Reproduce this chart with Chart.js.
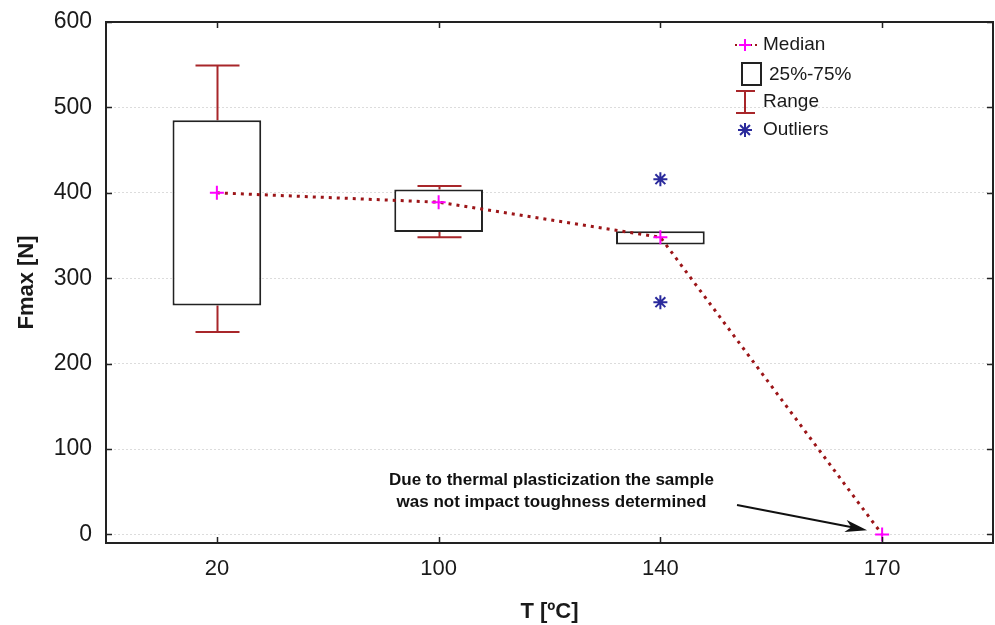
<!DOCTYPE html>
<html>
<head>
<meta charset="utf-8">
<script src="https://cdn.jsdelivr.net/npm/chart.js@4.4.0/dist/chart.umd.min.js"></script>
<style>
  html, body { margin: 0; padding: 0; background: #fff; }
  #wrap { width: 995px; height: 625px; }
</style>
</head>
<body>
<div id="wrap"><canvas id="fmax-chart" width="995" height="625"></canvas></div>
<script>
// temperatures and Fmax statistics per temperature
var temps = ["20", "100", "140", "170"];
var boxLow = [268, 354, 339.5, null];
var boxHigh = [485, 404, 355, null];
var rangeLow = [237, 348, 339.5, null];
var rangeHigh = [549, 408, 355, null];
var medians = [400, 389, 348, 0];
var outlierT = ["140", "140"];
var outlierF = [416, 272];
var yTicks = [0, 100, 200, 300, 400, 500, 600];
var noteLines = ["Due to thermal plasticization the sample", "was not impact toughness determined"];

var FONT = "Arial, 'Liberation Sans', sans-serif";
var RANGE_COLOR = "#a8262a";
var MEDIAN_LINE = "#9c1518";
var MEDIAN_MARK = "#ff00ff";
var OUTLIER_COLOR = "#2a2a9c";

// whiskers under the boxes; skipped where the range ends at the box edge
var whiskerPlugin = {
  id: "whiskers",
  beforeDatasetsDraw: function (chart) {
    let ctx = chart.ctx;
    let x = chart.scales.x, y = chart.scales.y;
    ctx.save();
    ctx.strokeStyle = RANGE_COLOR;
    ctx.lineWidth = 2;
    temps.forEach(function (t, i) {
      if (rangeLow[i] == null) return;
      let cx = Math.round(x.getPixelForValue(i)) + 0.5;
      let half = 22;
      let yl = y.getPixelForValue(rangeLow[i]);
      let yh = y.getPixelForValue(rangeHigh[i]);
      ctx.beginPath();
      if (rangeHigh[i] > boxHigh[i]) {
        ctx.moveTo(cx, yh); ctx.lineTo(cx, y.getPixelForValue(boxHigh[i]));
        ctx.moveTo(cx - half, yh); ctx.lineTo(cx + half, yh);
      }
      if (rangeLow[i] < boxLow[i]) {
        ctx.moveTo(cx, yl); ctx.lineTo(cx, y.getPixelForValue(boxLow[i]));
        ctx.moveTo(cx - half, yl); ctx.lineTo(cx + half, yl);
      }
      ctx.stroke();
    });
    ctx.restore();
  }
};

// frame with inward ticks, legend and the note with its arrow
var framePlugin = {
  id: "frame",
  afterDraw: function (chart) {
    let ctx = chart.ctx;
    let a = chart.chartArea;
    let x = chart.scales.x, y = chart.scales.y;
    ctx.save();
    ctx.strokeStyle = "#222";
    ctx.lineWidth = 2;
    ctx.strokeRect(a.left, a.top, a.right - a.left, a.bottom - a.top);

    ctx.lineWidth = 1.5;
    ctx.beginPath();
    yTicks.forEach(function (v) {
      let py = Math.round(y.getPixelForValue(v)) + 0.5;
      ctx.moveTo(a.left, py); ctx.lineTo(a.left + 6, py);
      ctx.moveTo(a.right, py); ctx.lineTo(a.right - 6, py);
    });
    temps.forEach(function (t, i) {
      let px = Math.round(x.getPixelForValue(i)) + 0.5;
      ctx.moveTo(px, a.bottom); ctx.lineTo(px, a.bottom - 6);
      ctx.moveTo(px, a.top); ctx.lineTo(px, a.top + 6);
    });
    ctx.stroke();

    // legend
    let lx = 745;
    ctx.font = "19px " + FONT;
    ctx.fillStyle = "#1a1a1a";
    ctx.textBaseline = "middle";
    ctx.textAlign = "left";

    ctx.strokeStyle = MEDIAN_LINE;
    ctx.lineWidth = 2;
    ctx.setLineDash([2, 3]);
    ctx.beginPath(); ctx.moveTo(lx - 10, 45); ctx.lineTo(lx + 12, 45); ctx.stroke();
    ctx.setLineDash([]);
    ctx.strokeStyle = MEDIAN_MARK;
    ctx.beginPath();
    ctx.moveTo(lx - 6, 45); ctx.lineTo(lx + 6, 45);
    ctx.moveTo(lx, 39); ctx.lineTo(lx, 51);
    ctx.stroke();
    ctx.fillText("Median", 763, 45);

    ctx.strokeStyle = "#222";
    ctx.strokeRect(742, 63, 19, 22);
    ctx.fillText("25%-75%", 769, 75);

    ctx.strokeStyle = RANGE_COLOR;
    ctx.beginPath();
    ctx.moveTo(lx, 91); ctx.lineTo(lx, 113);
    ctx.moveTo(lx - 9, 91); ctx.lineTo(lx + 10, 91);
    ctx.moveTo(lx - 9, 113); ctx.lineTo(lx + 10, 113);
    ctx.stroke();
    ctx.fillText("Range", 763, 102);

    ctx.strokeStyle = OUTLIER_COLOR;
    ctx.beginPath();
    for (let k = 0; k < 4; k++) {
      let ang = k * Math.PI / 4;
      ctx.moveTo(lx - 7 * Math.cos(ang), 130 - 7 * Math.sin(ang));
      ctx.lineTo(lx + 7 * Math.cos(ang), 130 + 7 * Math.sin(ang));
    }
    ctx.stroke();
    ctx.fillText("Outliers", 763, 130);

    // note about the 170 sample
    let nx = (x.getPixelForValue(1) + x.getPixelForValue(2)) / 2 + 2;
    let ny = y.getPixelForValue(63);
    ctx.font = "bold 17px " + FONT;
    ctx.textAlign = "center";
    ctx.fillStyle = "#111";
    ctx.fillText(noteLines[0], nx, ny);
    ctx.fillText(noteLines[1], nx, ny + 22);

    let tipX = x.getPixelForValue(3) - 15;
    let tipY = y.getPixelForValue(5);
    let sx = 737, sy = 505;
    let ang = Math.atan2(tipY - sy, tipX - sx);
    ctx.strokeStyle = "#111";
    ctx.lineWidth = 2;
    ctx.beginPath(); ctx.moveTo(sx, sy); ctx.lineTo(tipX - 14 * Math.cos(ang), tipY - 14 * Math.sin(ang)); ctx.stroke();
    ctx.fillStyle = "#111";
    ctx.beginPath();
    ctx.moveTo(tipX, tipY);
    ctx.lineTo(tipX - 22 * Math.cos(ang) + 6 * Math.sin(ang), tipY - 22 * Math.sin(ang) - 6 * Math.cos(ang));
    ctx.lineTo(tipX - 16 * Math.cos(ang), tipY - 16 * Math.sin(ang));
    ctx.lineTo(tipX - 22 * Math.cos(ang) - 6 * Math.sin(ang), tipY - 22 * Math.sin(ang) + 6 * Math.cos(ang));
    ctx.closePath();
    ctx.fill();
    ctx.restore();
  }
};

function buildChart() {
  let ctx = document.getElementById("fmax-chart").getContext("2d");

  let boxes = temps.map(function (t, i) {
    return boxLow[i] == null ? null : [boxLow[i], boxHigh[i]];
  });
  let outliers = outlierT.map(function (t, i) {
    return { x: t, y: outlierF[i] };
  });

  new Chart(ctx, {
    type: "bar",
    data: {
      labels: temps,
      datasets: [{
        type: "line",
        label: "Median",
        data: medians,
        order: 1,
        borderColor: MEDIAN_LINE,
        borderWidth: 3,
        borderDash: [3, 5],
        tension: 0,
        pointStyle: "cross",
        pointRadius: 7,
        pointBorderColor: MEDIAN_MARK,
        pointBorderWidth: 2
      }, {
        type: "line",
        label: "Outliers",
        data: outliers,
        order: 2,
        showLine: false,
        pointStyle: "star",
        pointRadius: 7,
        pointBorderColor: OUTLIER_COLOR,
        pointBorderWidth: 2
      }, {
        label: "25%-75%",
        data: boxes,
        order: 3,
        backgroundColor: "#fff",
        borderColor: "#222",
        borderWidth: 2,
        borderSkipped: false,
        barPercentage: 0.4,
        categoryPercentage: 1
      }]
    },
    options: {
      responsive: false,
      animation: false,
      layout: { autoPadding: false, padding: { top: 22, right: 2 } },
      plugins: { legend: { display: false }, tooltip: { enabled: false } },
      scales: {
        x: {
          offset: true,
          grid: { display: false },
          border: { display: false },
          ticks: { color: "#1a1a1a", font: { family: FONT, size: 22 }, padding: 5 },
          title: {
            display: true, text: "T [ºC]", color: "#1a1a1a",
            font: { family: FONT, size: 22, weight: "bold" }, padding: { top: 0, bottom: 0 }
          },
          afterFit: function (scale) {
            scale.height = 82;
            scale.paddingLeft = 0;
            scale.paddingRight = 0;
          }
        },
        y: {
          min: -10,
          max: 600,
          afterBuildTicks: function (scale) {
            scale.ticks = yTicks.map(function (v) { return { value: v }; });
          },
          grid: { color: "#dcdcdc", lineWidth: 1, drawTicks: false },
          border: { display: false, dash: [2, 2] },
          ticks: { color: "#1a1a1a", font: { family: FONT, size: 23 }, padding: 14 },
          title: {
            display: true, text: "Fmax [N]", color: "#1a1a1a",
            font: { family: FONT, size: 22, weight: "bold" }, padding: { top: 14, bottom: 0 }
          },
          afterFit: function (scale) {
            scale.width = 106;
            scale.paddingTop = 0;
            scale.paddingBottom = 0;
          }
        }
      }
    },
    plugins: [whiskerPlugin, framePlugin]
  });
}

buildChart();
</script>
</body>
</html>
